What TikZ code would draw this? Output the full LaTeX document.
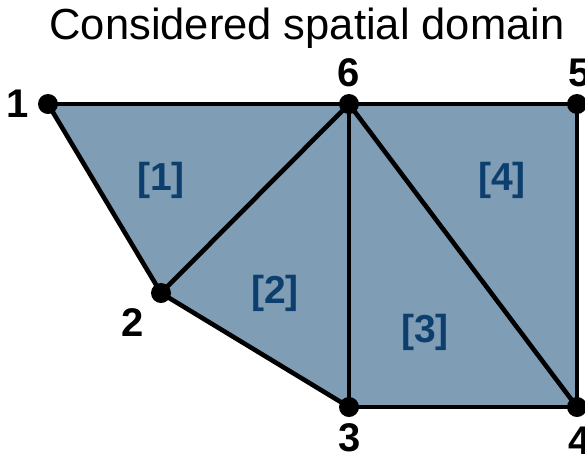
\documentclass[tikz,border=0pt]{standalone}
\usepackage{fontspec}
\setmainfont{Liberation Sans}
\definecolor{meshfill}{RGB}{127,157,181}
\definecolor{elemblue}{RGB}{13,63,110}
\begin{document}
\begin{tikzpicture}[x=1pt,y=-1pt,
  vtx/.style={circle,fill=black,inner sep=0pt,minimum size=20pt},
  edge/.style={line width=4.6pt,line cap=round,line join=round},
  vlabel/.style={inner sep=0pt,font=\fontsize{40}{46}\selectfont\bfseries},
  elabel/.style={inner sep=0pt,text=elemblue,font=\fontsize{39}{44}\selectfont\bfseries}]
\useasboundingbox (0,0) rectangle (585,456);
\coordinate (p1) at (48,104);
\coordinate (p6) at (349,104);
\coordinate (p5) at (577,104);
\coordinate (p2) at (161,293);
\coordinate (p3) at (349,407);
\coordinate (p4) at (577,407);
\fill[meshfill] (p1) -- (p6) -- (p5) -- (p4) -- (p3) -- (p2) -- cycle;
\draw[edge] (p1) -- (p6);
\draw[edge] (p6) -- (p5);
\draw[edge] (p5) -- (p4);
\draw[edge] (p4) -- (p3);
\draw[edge] (p3) -- (p2);
\draw[edge] (p2) -- (p1);
\draw[edge] (p2) -- (p6);
\draw[edge] (p6) -- (p3);
\draw[edge] (p6) -- (p4);
\node[vtx] (n1) at (p1) {};
\node[vtx] (n6) at (p6) {};
\node[vtx] (n5) at (p5) {};
\node[vtx] (n2) at (p2) {};
\node[vtx] (n3) at (p3) {};
\node[vtx] (n4) at (p4) {};
\node[vlabel] (l1) at (18,104) {1};
\node[vlabel] (l6) at (349,73) {6};
\node[vlabel] (l5) at (580,73) {5};
\node[vlabel] (l2) at (133,323) {2};
\node[vlabel] (l3) at (350,438) {3};
\node[vlabel] (l4) at (580,441) {4};
\node[elabel] (e1) at (161,180) {[1]};
\node[elabel] (e2) at (275,293) {[2]};
\node[elabel] (e3) at (425,332) {[3]};
\node[elabel] (e4) at (502,180) {[4]};
\node[inner sep=0pt,anchor=base,font=\fontsize{43.5}{50}\selectfont] (title) at (307,39) {Considered spatial domain};
\end{tikzpicture}
\end{document}
